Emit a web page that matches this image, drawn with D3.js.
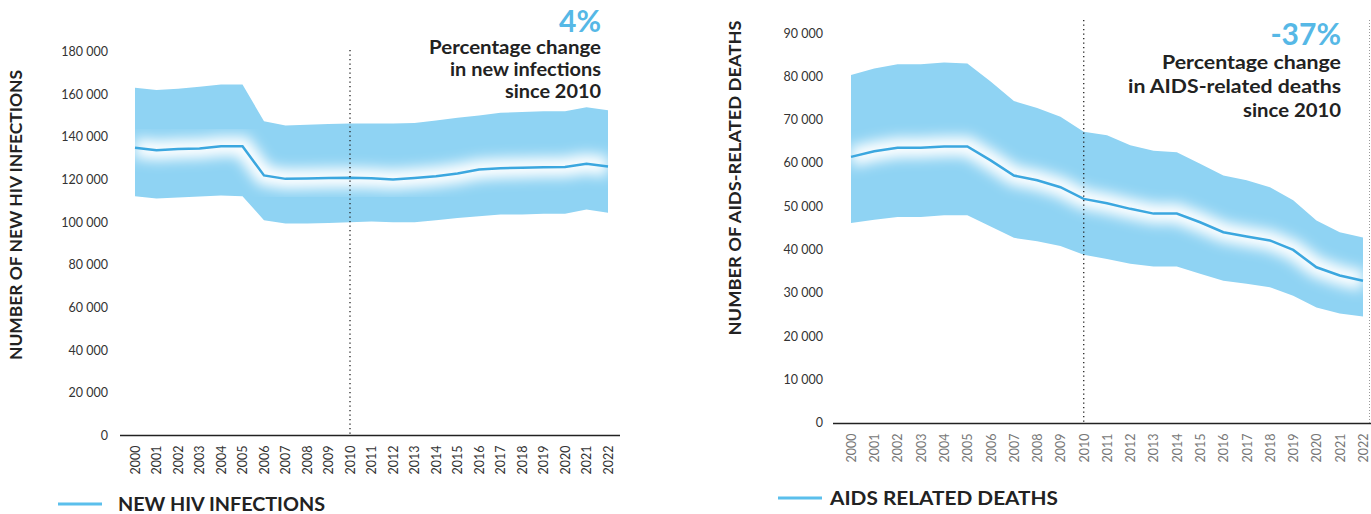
<!DOCTYPE html>
<html>
<head>
<meta charset="utf-8">
<script src="https://cdn.jsdelivr.net/npm/d3@7"></script>
<style>
  body { margin: 0; background: #fff; }
  svg { display: block; font-family: Lato, "Open Sans", sans-serif; }
</style>
</head>
<body>
<div id="chart"></div>
<script>
const years = d3.range(2000, 2023).map(String);

// new HIV infections
const infMid   = [134900, 133700, 134300, 134500, 135600, 135600, 121900, 120300, 120500, 120700, 120800, 120600, 120000, 120700, 121500, 122800, 124700, 125300, 125500, 125800, 125900, 127400, 126100];
const infUpper = [163000, 162000, 162500, 163500, 164500, 164500, 147300, 145300, 145700, 146000, 146250, 146250, 146250, 146500, 147600, 148900, 150000, 151300, 151600, 152000, 152000, 153900, 152500];
const infLower = [112200, 111100, 111600, 112000, 112500, 112200, 100900, 99400, 99400, 99600, 100000, 100300, 100000, 100000, 100900, 102000, 102800, 103600, 103600, 104000, 104000, 105900, 104400];
const infTicks = d3.range(0, 180001, 20000);

// AIDS-related deaths
const dthMid   = [61600, 62900, 63700, 63700, 64000, 64000, 60800, 57300, 56200, 54600, 51900, 50900, 49600, 48500, 48500, 46500, 44200, 43200, 42300, 40100, 36100, 34200, 33000];
const dthUpper = [80500, 82000, 83000, 83000, 83400, 83200, 79000, 74500, 72900, 70900, 67400, 66600, 64300, 63000, 62700, 60000, 57300, 56200, 54600, 51600, 46900, 44200, 43000];
const dthLower = [46300, 47100, 47700, 47700, 48100, 48100, 45500, 42900, 42100, 41000, 39000, 38000, 36900, 36300, 36300, 34600, 33000, 32300, 31500, 29500, 26800, 25400, 24700];
const dthTicks = d3.range(0, 90001, 10000);

const bandColor = "#8fd3f3";
const lineColor = "#3ba7df";
const fmt = v => d3.format(",")(v).replace(/,/g, " ");

const svg = d3.select("#chart").append("svg")
  .attr("width", 1371)
  .attr("height", 514);

const defs = svg.append("defs");
defs.append("filter")
  .attr("id", "glow")
  .attr("x", "-20%").attr("y", "-50%")
  .attr("width", "140%").attr("height", "200%")
  .append("feGaussianBlur")
  .attr("stdDeviation", 6.5);

function drawChart(id, cfg) {
  const g = svg.append("g").attr("class", id);

  const x = d3.scalePoint().domain(years).range(cfg.xRange);
  const y = d3.scaleLinear().domain([0, cfg.yMax]).range(cfg.yRange);

  const rows = years.map((yr, i) => ({ yr, lo: cfg.lower[i], mid: cfg.mid[i], hi: cfg.upper[i] }));

  const area = d3.area()
    .x(d => x(d.yr))
    .y0(d => y(d.lo))
    .y1(d => y(d.hi));
  const line = d3.line()
    .x(d => x(d.yr))
    .y(d => y(d.mid));

  defs.append("clipPath").attr("id", id + "-clip")
    .append("path").attr("d", area(rows));

  g.append("path")
    .attr("d", area(rows))
    .attr("fill", bandColor);

  g.append("path")
    .attr("d", line(rows))
    .attr("clip-path", `url(#${id}-clip)`)
    .attr("fill", "none")
    .attr("stroke", "#fff")
    .attr("stroke-width", 20)
    .attr("filter", "url(#glow)");

  g.append("path")
    .attr("d", line(rows))
    .attr("fill", "none")
    .attr("stroke", lineColor)
    .attr("stroke-width", 2.5);

  // y axis labels
  const yAxis = g.append("g")
    .attr("transform", `translate(${cfg.yLabelX},0)`)
    .call(d3.axisLeft(y).tickValues(cfg.ticks).tickSize(0).tickPadding(0).tickFormat(fmt));
  yAxis.select(".domain").remove();
  yAxis.selectAll("text")
    .attr("font-family", "Lato, sans-serif")
    .attr("font-size", 12.5)
    .attr("fill", "#333")
    .attr("dy", cfg.yLabelDy);

  // x axis labels (rotated)
  const xAxis = g.append("g")
    .attr("transform", `translate(0,${y(0)})`)
    .call(d3.axisBottom(x).tickSize(0).tickPadding(0));
  xAxis.select(".domain").remove();
  xAxis.selectAll("text")
    .attr("font-family", "Lato, sans-serif")
    .attr("font-size", 12.5)
    .attr("fill", cfg.yearColor)
    .attr("text-anchor", "end")
    .attr("transform", "rotate(-90)")
    .attr("x", -10)
    .attr("y", 0)
    .attr("dy", "0.35em");

  // baseline
  g.append("line")
    .attr("x1", cfg.axisX[0]).attr("x2", cfg.axisX[1])
    .attr("y1", y(0)).attr("y2", y(0))
    .attr("stroke", "#222")
    .attr("stroke-width", 1.6);

  // 2010 reference line
  g.append("line")
    .attr("x1", x("2010")).attr("x2", x("2010"))
    .attr("y1", cfg.refTop).attr("y2", y(0))
    .attr("stroke", "#222")
    .attr("stroke-width", 1.3)
    .attr("stroke-dasharray", "1.3 3.2");

  // y axis title
  g.append("text")
    .attr("transform", `translate(${cfg.titleX},${cfg.titleY}) rotate(-90)`)
    .attr("text-anchor", "middle")
    .attr("font-size", 17)
    .attr("font-weight", 700)
    .attr("fill", "#222")
    .attr("textLength", cfg.titleLen)
    .attr("lengthAdjust", "spacingAndGlyphs")
    .text(cfg.title);

  // percentage callout
  g.append("text")
    .attr("x", cfg.noteX).attr("y", cfg.noteY)
    .attr("text-anchor", "end")
    .attr("font-size", 30)
    .attr("font-weight", 700)
    .attr("fill", "#56b8e6")
    .text(cfg.pct);
  cfg.note.forEach((t, i) => {
    g.append("text")
      .attr("x", cfg.noteX).attr("y", cfg.noteY + cfg.noteGap * (i + 1))
      .attr("text-anchor", "end")
      .attr("font-size", 18)
      .attr("font-weight", 700)
      .attr("fill", "#222")
      .attr("textLength", cfg.noteLen[i])
      .attr("lengthAdjust", "spacingAndGlyphs")
      .text(t);
  });

  // legend
  g.append("line")
    .attr("x1", cfg.legend[0]).attr("x2", cfg.legend[0] + 44)
    .attr("y1", cfg.legend[1]).attr("y2", cfg.legend[1])
    .attr("stroke", "#5bbfec")
    .attr("stroke-width", 3);
  g.append("text")
    .attr("x", cfg.legend[0] + cfg.legendGap).attr("y", cfg.legend[1] + 7)
    .attr("font-size", 19)
    .attr("font-weight", 700)
    .attr("fill", "#222")
    .attr("textLength", cfg.legendLen)
    .attr("lengthAdjust", "spacingAndGlyphs")
    .text(cfg.legendText);

  return { x, y };
}

drawChart("inf", {
  mid: infMid, upper: infUpper, lower: infLower,
  yMax: 180000, ticks: infTicks,
  xRange: [135, 608], yRange: [435.5, 51.5],
  yLabelX: 108, yLabelDy: "0.32em", yearColor: "#333",
  axisX: [120, 620], refTop: 50,
  title: "NUMBER OF NEW HIV INFECTIONS", titleX: 22, titleY: 215, titleLen: 290,
  pct: "4%", note: ["Percentage change", "in new infections", "since 2010"],
  noteLen: [172, 151, 96],
  noteX: 601, noteY: 32, noteGap: 22,
  legend: [58, 504], legendGap: 60, legendLen: 207, legendText: "NEW HIV INFECTIONS"
});

drawChart("dth", {
  mid: dthMid, upper: dthUpper, lower: dthLower,
  yMax: 90000, ticks: dthTicks,
  xRange: [851, 1363], yRange: [423.5, 34],
  yLabelX: 823, yLabelDy: "0.25em", yearColor: "#777",
  axisX: [833, 1371], refTop: 20,
  title: "NUMBER OF AIDS-RELATED DEATHS", titleX: 741, titleY: 178, titleLen: 315,
  pct: "-37%", note: ["Percentage change", "in AIDS-related deaths", "since 2010"],
  noteLen: [179, 213, 98],
  noteX: 1341, noteY: 45, noteGap: 24,
  legend: [778, 498], legendGap: 52, legendLen: 228, legendText: "AIDS RELATED DEATHS"
});

// thin dotted divider at the right edge
svg.append("line")
  .attr("x1", 1369.5).attr("x2", 1369.5)
  .attr("y1", 20).attr("y2", 423)
  .attr("stroke", "#999")
  .attr("stroke-width", 1)
  .attr("stroke-dasharray", "1 2");
</script>
</body>
</html>
